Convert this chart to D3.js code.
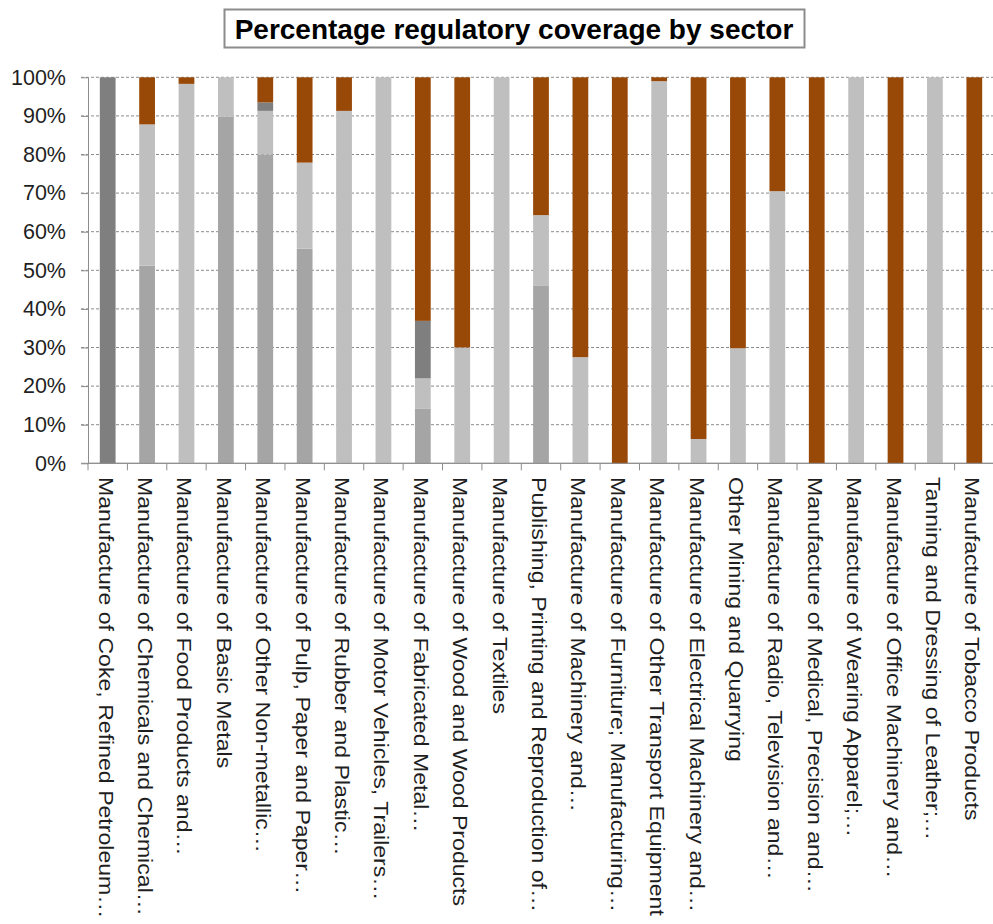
<!DOCTYPE html>
<html>
<head>
<meta charset="utf-8">
<script src="https://cdn.jsdelivr.net/npm/d3@7"></script>
<style>
  html, body { margin: 0; padding: 0; background: #fff; }
  svg { display: block; }
  text { font-family: "Liberation Sans", Arial, sans-serif; }
</style>
</head>
<body>
<svg id="chart" width="993" height="924"></svg>
<script>
// Sector names, as shown along the category axis
const sectors = [
  "Manufacture of Coke, Refined Petroleum…",
  "Manufacture of Chemicals and Chemical…",
  "Manufacture of Food Products and…",
  "Manufacture of Basic Metals",
  "Manufacture of Other Non-metallic…",
  "Manufacture of Pulp, Paper and Paper…",
  "Manufacture of Rubber and Plastic…",
  "Manufacture of Motor Vehicles, Trailers…",
  "Manufacture of Fabricated Metal…",
  "Manufacture of Wood and Wood Products",
  "Manufacture of Textiles",
  "Publishing, Printing and Reproduction of…",
  "Manufacture of Machinery and…",
  "Manufacture of Furniture; Manufacturing…",
  "Manufacture of Other Transport Equipment",
  "Manufacture of Electrical Machinery and…",
  "Other Mining and Quarrying",
  "Manufacture of Radio, Television and…",
  "Manufacture of Medical, Precision and…",
  "Manufacture of Wearing Apparel;…",
  "Manufacture of Office Machinery and…",
  "Tanning and Dressing of Leather;…",
  "Manufacture of Tobacco Products"
];

// Share of each sector (%) in each coverage band, stacked bottom to top
const band1 = [0, 51.2, 0, 89.8, 80.0, 55.6, 0, 0, 14.1, 0, 0, 46.1, 0, 0, 0, 0, 0, 0, 0, 0, 0, 0, 0];
const band2 = [0, 36.6, 98.3, 10.2, 11.3, 22.3, 91.3, 100, 7.9, 30.0, 100, 18.2, 27.5, 0, 99.0, 6.3, 29.8, 70.5, 0, 100, 0, 100, 0];
const band3 = [100, 0, 0, 0, 2.2, 0, 0, 0, 14.9, 0, 0, 0, 0, 0, 0, 0, 0, 0, 0, 0, 0, 0, 0];
const band4 = [0, 12.2, 1.7, 0, 6.5, 22.1, 8.7, 0, 63.1, 70.0, 0, 35.7, 72.5, 100, 1.0, 93.7, 70.2, 29.5, 100, 0, 100, 0, 100];

const yTicks = [0, 10, 20, 30, 40, 50, 60, 70, 80, 90, 100];
const titleText = "Percentage regulatory coverage by sector";

const keys = ["band1", "band2", "band3", "band4"];
const colors = { band1: "#a5a5a5", band2: "#bfbfbf", band3: "#7f7f7f", band4: "#984807" };

const rows = sectors.map((s, i) => ({
  sector: s, band1: band1[i], band2: band2[i], band3: band3[i], band4: band4[i]
}));

const svg = d3.select("#chart");
const plotLeft = 88, plotRight = 994, plotTop = 77.3, plotBottom = 463.3;

const x = d3.scaleBand().domain(sectors).range([plotLeft, plotRight]).paddingInner(0.6).paddingOuter(0.3);
const y = d3.scaleLinear().domain([0, 100]).range([plotBottom, plotTop]);

// Dashed horizontal gridlines with short ticks left of the axis
svg.append("g")
  .selectAll("line")
  .data(yTicks)
  .join("line")
  .attr("x1", plotLeft - 7)
  .attr("x2", plotRight)
  .attr("y1", d => y(d))
  .attr("y2", d => y(d))
  .attr("stroke", "#8c8c8c")
  .attr("stroke-width", 1)
  .attr("stroke-dasharray", d => d === 0 ? null : "3,2");

// Stacked bars
const stacked = d3.stack().keys(keys)(rows);
svg.append("g")
  .selectAll("g")
  .data(stacked)
  .join("g")
  .attr("fill", d => colors[d.key])
  .selectAll("rect")
  .data(d => d)
  .join("rect")
  .attr("x", d => x(d.data.sector))
  .attr("width", x.bandwidth())
  .attr("y", d => y(d[1]))
  .attr("height", d => y(d[0]) - y(d[1]));

// Y axis
const yAxis = svg.append("g")
  .attr("transform", `translate(${plotLeft},0)`)
  .call(d3.axisLeft(y).tickValues(yTicks).tickFormat(d => d + "%").tickSize(7).tickSizeOuter(0));
yAxis.select(".domain").attr("stroke", "#8c8c8c");
yAxis.selectAll(".tick line").attr("stroke", "#8c8c8c");
yAxis.selectAll(".tick text")
  .attr("x", -22)
  .attr("font-size", 21.5)
  .attr("fill", "#1f1f1f");

// X axis: baseline with ticks between categories
const xg = svg.append("g");
xg.append("line")
  .attr("x1", plotLeft).attr("x2", plotRight)
  .attr("y1", plotBottom).attr("y2", plotBottom)
  .attr("stroke", "#8c8c8c");
const step = x.step();
xg.selectAll("line.tk")
  .data(d3.range(sectors.length + 1))
  .join("line")
  .attr("class", "tk")
  .attr("x1", i => plotLeft + i * step)
  .attr("x2", i => plotLeft + i * step)
  .attr("y1", plotBottom)
  .attr("y2", plotBottom + 7)
  .attr("stroke", "#8c8c8c");

// Rotated category labels, slightly stretched along the reading direction
xg.selectAll("text")
  .data(sectors)
  .join("text")
  .attr("transform", d => `translate(${x(d) + x.bandwidth() / 2 - 9},477) rotate(90) scale(1.1,1)`)
  .attr("font-size", 21)
  .attr("fill", "#1f1f1f")
  .attr("text-anchor", "start")
  .text(d => d);

// Boxed title
const tg = svg.append("g");
tg.append("rect")
  .attr("x", 224.5).attr("y", 9.5)
  .attr("width", 580).attr("height", 38)
  .attr("fill", "#fff")
  .attr("stroke", "#8c8c8c")
  .attr("stroke-width", 2);
tg.append("text")
  .attr("x", 514).attr("y", 39)
  .attr("text-anchor", "middle")
  .attr("font-size", 28)
  .attr("font-weight", "bold")
  .attr("fill", "#000")
  .text(titleText);
</script>
</body>
</html>
